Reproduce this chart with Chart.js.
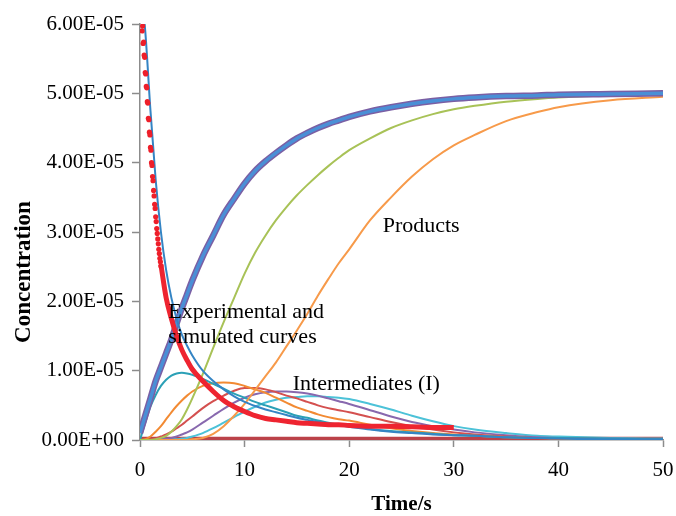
<!DOCTYPE html>
<html>
<head>
<meta charset="utf-8">
<script src="https://cdn.jsdelivr.net/npm/chart.js@4.4.1/dist/chart.umd.min.js"></script>
<style>
  html, body { margin: 0; padding: 0; background: #ffffff; }
  #wrap { width: 676px; height: 516px; }
</style>
</head>
<body>
<div id="wrap"><canvas id="c" width="676" height="516"></canvas></div>
<script>
// ---- data (concentrations in units of 1e-5) ----
const UNIT = 1e-5;
const time = [0,0.5,1,1.5,2,2.5,3,3.5,4,4.5,5,6,7,8,9,10,11,12,13,14,15,16,17,18,19,20,22,24,26,28,30,32,35,38,40,45,50];

const productBlue   = [0.10,0.35,0.60,0.85,1.05,1.25,1.45,1.68,1.90,2.10,2.30,2.65,2.95,3.25,3.48,3.70,3.88,4.02,4.14,4.25,4.35,4.43,4.50,4.56,4.61,4.66,4.74,4.80,4.85,4.89,4.92,4.94,4.96,4.97,4.98,4.99,5.00];
const productGreen  = [0,0,0,0.01,0.03,0.06,0.12,0.20,0.30,0.44,0.60,0.95,1.33,1.70,2.05,2.40,2.70,2.95,3.17,3.36,3.53,3.68,3.82,3.95,4.07,4.18,4.35,4.50,4.61,4.70,4.77,4.82,4.88,4.92,4.94,4.97,4.98];
const productOrange = [0,0,0,0,0,0,0,0,0,0,0.01,0.03,0.09,0.20,0.35,0.52,0.72,0.92,1.12,1.35,1.58,1.82,2.08,2.32,2.55,2.75,3.17,3.50,3.80,4.05,4.25,4.40,4.60,4.73,4.80,4.90,4.95];
const reactantSim   = [6.60,5.90,4.75,3.75,3.00,2.45,2.05,1.75,1.52,1.36,1.22,1.00,0.85,0.73,0.63,0.55,0.49,0.44,0.40,0.36,0.32,0.29,0.26,0.23,0.21,0.19,0.15,0.12,0.10,0.08,0.07,0.06,0.04,0.03,0.02,0.01,0.01];
const inter1 = [0,0.25,0.48,0.65,0.78,0.87,0.93,0.96,0.97,0.96,0.94,0.88,0.81,0.74,0.67,0.61,0.55,0.50,0.45,0.40,0.35,0.32,0.28,0.25,0.22,0.20,0.16,0.13,0.11,0.09,0.07,0.06,0.04,0.03,0.03,0.02,0.01];
const inter2 = [0,0.01,0.05,0.12,0.20,0.30,0.40,0.49,0.57,0.64,0.70,0.78,0.82,0.83,0.82,0.78,0.73,0.68,0.61,0.54,0.47,0.42,0.37,0.33,0.30,0.28,0.22,0.17,0.13,0.10,0.08,0.06,0.04,0.03,0.02,0.01,0.01];
const inter3 = [0,0,0.01,0.02,0.05,0.08,0.12,0.17,0.22,0.28,0.34,0.46,0.56,0.64,0.71,0.75,0.75,0.73,0.69,0.64,0.60,0.55,0.50,0.46,0.43,0.40,0.33,0.26,0.20,0.15,0.11,0.08,0.05,0.03,0.03,0.01,0.01];
const inter4 = [0,0,0,0,0.01,0.02,0.03,0.05,0.08,0.11,0.15,0.25,0.35,0.45,0.54,0.61,0.66,0.69,0.70,0.70,0.69,0.67,0.64,0.60,0.56,0.52,0.43,0.34,0.26,0.20,0.15,0.11,0.07,0.04,0.03,0.02,0.01];
const inter5 = [0,0,0,0,0,0,0.01,0.01,0.02,0.03,0.05,0.10,0.17,0.25,0.33,0.41,0.48,0.54,0.58,0.61,0.62,0.63,0.63,0.62,0.61,0.59,0.52,0.44,0.35,0.27,0.20,0.15,0.10,0.06,0.05,0.03,0.02];

const baseTime = [0, 50];
const baseSeries = [0.02, 0.02];

// experimental points (dense, steep early part)
const expDotTime = [0.15,0.2,0.25,0.3,0.35,0.4,0.45,0.5,0.55,0.6,0.65,0.7,0.75,0.8,0.85,0.9,0.95,1.0,1.05,1.1,1.15,1.2,1.25,1.3,1.35,1.4,1.45,1.5,1.55,1.6,1.65,1.7,1.75,1.8,1.85,1.9,1.95,2.0];
const expDots    = [6.05,5.90,5.97,5.72,5.74,5.55,5.52,5.30,5.28,5.10,5.08,4.88,4.86,4.64,4.62,4.44,4.40,4.22,4.18,4.00,3.96,3.80,3.74,3.60,3.52,3.40,3.34,3.22,3.15,3.05,2.98,2.90,2.83,2.75,2.69,2.62,2.57,2.51];
// experimental points (later part, so dense they merge into a thick line)
const expLineTime = [2,2.5,3,3.5,4,4.5,5,6,7,8,9,10,11,12,13,14,15,16,17,18,19,20,22,24,26,28,30];
const expLine     = [2.53,2.05,1.75,1.50,1.30,1.15,1.02,0.85,0.70,0.57,0.48,0.41,0.35,0.31,0.29,0.27,0.25,0.24,0.23,0.22,0.22,0.21,0.20,0.20,0.19,0.18,0.18];

const xTicks = [0,10,20,30,40,50];
const annotations = [
  { lines: ['Products'], x: 23.2, y: 3.0e-5 },
  { lines: ['Experimental and', 'simulated curves'], x: 2.7, y: 1.76e-5 },
  { lines: ['Intermediates (I)'], x: 14.6, y: 0.72e-5 }
];
const yTitle = 'Concentration';
const xTitle = 'Time/s';

// ---- helpers ----
function pts(t, v) { return t.map((tt, i) => ({ x: tt, y: v[i] * UNIT })); }
function fmtE(v) {
  if (Math.abs(v) < 1e-15) return '0.00E+00';
  let e = Math.floor(Math.log10(Math.abs(v)) + 1e-9);
  let m = v / Math.pow(10, e);
  if (Math.abs(m) >= 9.995) { m /= 10; e += 1; }
  return m.toFixed(2) + 'E' + (e < 0 ? '-' : '+') + String(Math.abs(e)).padStart(2, '0');
}
function lineDS(data, color, width) {
  return { data, showLine: true, borderColor: color, backgroundColor: color, borderWidth: width,
           pointRadius: 0, cubicInterpolationMode: 'monotone', fill: false };
}

const SERIF = '"Liberation Serif", "Times New Roman", serif';

const textPlugin = {
  id: 'textPlugin',
  afterDatasetsDraw(chart) {
    const { ctx, scales: { x, y } } = chart;
    ctx.save();
    ctx.fillStyle = '#000';
    ctx.font = '22px ' + SERIF;
    ctx.textAlign = 'left';
    ctx.textBaseline = 'alphabetic';
    annotations.forEach(a => {
      a.lines.forEach((ln, i) => {
        ctx.fillText(ln, x.getPixelForValue(a.x), y.getPixelForValue(a.y) + i * 25);
      });
    });
    ctx.translate(24, 272);
    ctx.rotate(-Math.PI / 2);
    ctx.font = 'bold 23px ' + SERIF;
    ctx.textAlign = 'center';
    ctx.textBaseline = 'middle';
    ctx.fillText(yTitle, 0, 0);
    ctx.restore();
  }
};

const datasets = [
  { data: pts(expDotTime, expDots), showLine: false, pointRadius: 2.6, pointBorderWidth: 0,
    pointBackgroundColor: '#ee1f2a', borderColor: '#ee1f2a' },
  lineDS(pts(expLineTime, expLine), '#ee2430', 5),
  lineDS(pts(time, reactantSim), '#3484c4', 2),
  lineDS(pts(time, productBlue), '#4a8fd6', 3.5),
  lineDS(pts(time, productBlue), '#7a5fa4', 6.5),
  lineDS(pts(time, productGreen), '#a8c257', 2),
  lineDS(pts(time, productOrange), '#f79a4a', 2),
  lineDS(pts(time, inter1), '#2ba0b6', 2),
  lineDS(pts(time, inter2), '#f28a33', 2),
  lineDS(pts(time, inter3), '#d4504f', 2),
  lineDS(pts(time, inter4), '#8868ae', 2),
  lineDS(pts(time, inter5), '#4cc2d8', 2),
  lineDS(pts(baseTime, baseSeries), '#bb4249', 3.5)
];

new Chart(document.getElementById('c'), {
  type: 'scatter',
  data: { datasets },
  options: {
    responsive: false,
    animation: false,
    devicePixelRatio: 1,
    layout: { padding: { top: 24, right: 13, left: 0, bottom: 0 } },
    plugins: { legend: { display: false }, tooltip: { enabled: false } },
    scales: {
      x: {
        type: 'linear', min: 0, max: 50,
        afterBuildTicks: s => { s.ticks = xTicks.map(v => ({ value: v })); },
        afterFit: s => { s.height = 76; s.paddingRight = 0; s.paddingLeft = 0; },
        ticks: { color: '#000', font: { family: SERIF, size: 21 }, padding: 11, maxRotation: 0, autoSkip: false },
        grid: { display: true, drawOnChartArea: false, drawTicks: true, tickLength: 7, tickColor: '#8c8c8c', tickWidth: 1.5 },
        border: { display: true, color: '#8c8c8c', width: 1.5 },
        title: { display: true, text: xTitle, color: '#000', font: { family: SERIF, size: 21, weight: 'bold' }, padding: { top: 0, bottom: -1 } }
      },
      y: {
        type: 'linear', min: 0, max: 6e-5,
        afterFit: s => { s.width = 140; },
        ticks: { stepSize: 1e-5, color: '#000', font: { family: SERIF, size: 21 }, padding: 8, callback: v => fmtE(v) },
        grid: { display: true, drawOnChartArea: false, drawTicks: true, tickLength: 8, tickColor: '#8c8c8c', tickWidth: 1.5 },
        border: { display: true, color: '#8c8c8c', width: 1.5 }
      }
    }
  },
  plugins: [textPlugin]
});
</script>
</body>
</html>
